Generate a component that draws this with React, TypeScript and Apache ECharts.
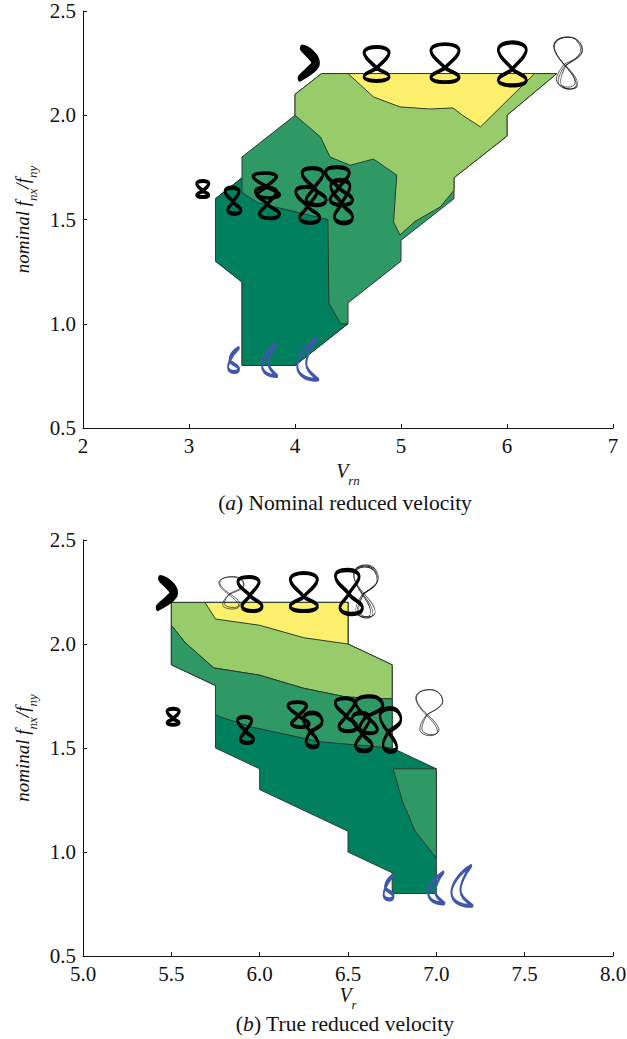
import React, { useEffect, useRef } from "react";
import * as echarts from "echarts";

type P = number[];

// ---- Panel (a): regions, in (V_rn, nominal fnx/fny)
const outerA: P[] = [[3.25,1.6],[3.5,1.7],[3.5,1.8],[4,2],[4,2.1],[4.25,2.2],[6.47,2.2],[6,2],[6,1.9],[5.5,1.7],[5.5,1.6],[5,1.4],[5,1.3],[4.5,1.1],[4.5,1],[4,0.8],[3.5,0.8],[3.5,1.2],[3.25,1.3]];
const darkA: P[] = [[3.25,1.6],[3.5,1.7],[3.5,1.63],[3.65,1.58],[3.98,1.54],[4.31,1.5],[4.32,1.1],[4.43,1],[4.5,1],[4,0.8],[3.5,0.8],[3.5,1.2],[3.25,1.3]];
const lightA: P[] = [[4,2.1],[4.25,2.2],[6.47,2.2],[6,2],[6,1.9],[5.5,1.7],[5.5,1.64],[5.37,1.56],[5.13,1.49],[4.99,1.426],[4.93,1.488],[4.96,1.713],[4.74,1.79],[4.52,1.76],[4.33,1.8],[4.24,1.896],[4,2]];
const yellowA: P[] = [[4.5,2.2],[4.74,2.088],[4.99,2.04],[5.27,2.03],[5.49,2.035],[5.58,2],[5.75,1.944],[6.26,2.2]];

// ---- Panel (b): regions, in (V_r, nominal fnx/fny)
const outerB: P[] = [[5.5,2.2],[6.5,2.2],[6.5,2],[6.75,1.9],[6.75,1.5],[7,1.4],[7,0.8],[6.75,0.8],[6.75,0.9],[6.5,1],[6.5,1.1],[6,1.3],[6,1.4],[5.75,1.5],[5.75,1.8],[5.5,1.9]];
const lightB: P[] = [[5.5,2.2],[6.5,2.2],[6.5,2],[6.75,1.9],[6.75,1.736],[6.49,1.745],[6.245,1.788],[6,1.85],[5.74,1.885],[5.58,2.005],[5.5,2.09]];
const midB: P[] = [[5.5,2.09],[5.58,2.005],[5.74,1.885],[6,1.85],[6.245,1.788],[6.49,1.745],[6.75,1.736],[6.75,1.5],[6.34,1.53],[5.96,1.6],[5.775,1.65],[5.75,1.66],[5.75,1.8],[5.5,1.9]];
const yellowB: P[] = [[5.69,2.2],[6.5,2.2],[6.5,2],[6.25,2.03],[6,2.09],[5.75,2.12]];
const patchB: P[] = [[6.755,1.4],[7,1.4],[7,0.97],[6.88,1.1],[6.81,1.24]];

// ---- Trajectory marker positions
const hookA: P[] = [[4.13,2.25]];
const eightsA: P[] = [[4.77,2.246],[5.415,2.25],[6.05,2.246],[3.13,1.646],[3.415,1.59],[3.73,1.663],[3.74,1.58],[4.18,1.658],[4.12,1.57],[4.415,1.66],[4.44,1.586]];
const thinA: P[] = [[6.575,2.25],[6.58,2.25],[6.57,2.255]];
const blueA: P[] = [[3.42,0.826],[3.76,0.826],[4.12,0.83]];
const hookB: P[] = [[5.475,2.245]];
const eightsB: P[] = [[5.945,2.24],[6.25,2.25],[6.505,2.25],[5.51,1.65],[5.92,1.587],[6.22,1.66],[6.3,1.587],[6.49,1.66],[6.62,1.66],[6.58,1.577],[6.74,1.587]];
const thinB: P[] = [[5.84,2.245],[5.845,2.25],[6.6,2.25],[6.605,2.255],[6.595,2.25],[6.96,1.67],[6.965,1.672]];
const blueB: P[] = [[6.73,0.83],[7,0.827],[7.145,0.837]];

// ---- Tick values / text
const xTicksB = ["5.0", "5.5", "6.0", "6.5", "7.0", "7.5", "8.0"];

const EIGHT = "path://M50 62C32 46 6 34 4 18C3 5 28 0 50 0C72 0 97 5 96 18C94 34 68 46 50 62C38 72 3 76 4 88C5 97 28 100 50 100C72 100 95 97 96 88C97 76 62 72 50 62Z";
const TILT = "path://M50 54C30 38 3 30 2 14C2 3 24 0 46 0C70 0 90 6 86 18C82 30 62 40 50 54C40 68 18 74 18 86C20 96 42 100 60 100C84 100 99 95 98 85C96 72 62 68 50 54Z";
const LEAN = "path://M40 55C20 42 2 28 4 16C8 2 40 -2 65 1C90 5 102 22 94 32C82 44 55 48 40 55C25 68 10 85 22 93C38 103 75 102 78 92C80 80 55 65 40 55Z";
const HOOK = "path://M12 0C50 4 95 30 95 50C95 65 40 85 0 100C30 80 72 62 72 48C72 36 34 16 12 0Z";
const CRES = "path://M92 0C40 15 0 45 0 65C0 88 45 100 98 98C70 85 42 76 42 60C42 45 62 20 92 0Z";
const BLUE8 = "path://M88 0C55 8 15 30 18 50C20 62 82 68 90 85C94 100 30 104 8 86C-6 68 42 22 88 0Z";

const REGION_DARK = "#00805f";
const REGION_MID = "#2f9966";
const REGION_LIGHT = "#98cc6a";
const REGION_YELLOW = "#fcef6c";
const EDGE = "#2c3a30";

const eightLooksA: any[] = [[EIGHT,[25,34]],[EIGHT,[28,38]],[EIGHT,[28,43]],[EIGHT,[12,16]],[TILT,[16,26]],[TILT,[26,25]],[TILT,[24,31]],[TILT,[24,37]],[TILT,[24,36]],[TILT,[27,38]],[TILT,[22,43]]];
const thinLooksA: any[] = [[LEAN,[28,52],0],[LEAN,[26,52],4],[LEAN,[29,50],-3]];
const blueLooksA: any[] = [[BLUE8,[11,24]],[CRES,[15,32]],[CRES,[21,41]]];
const eightLooksB: any[] = [[TILT,[24,34]],[EIGHT,[27,38]],[TILT,[27,44]],[EIGHT,[12,16]],[TILT,[16,26]],[TILT,[21,25]],[LEAN,[19,34]],[TILT,[22,33]],[LEAN,[27,37]],[TILT,[20,38]],[LEAN,[21,43]]];
const thinLooksB: any[] = [[LEAN,[25,32],0],[LEAN,[24,31],3],[LEAN,[24,52],0],[LEAN,[25,52],3],[LEAN,[23,50],-3],[LEAN,[27,46],0],[LEAN,[26,45],3]];
const blueLooksB: any[] = [[BLUE8,[10,24]],[CRES,[16,31]],[CRES,[21,40]]];

const region = (name: string, pts: P[], fill: string, xi: number) => ({
  type: "custom",
  name,
  xAxisIndex: xi,
  yAxisIndex: xi,
  silent: true,
  clip: false,
  data: pts,
  encode: { x: 0, y: 1 },
  renderItem: (params: any, api: any) =>
    params.dataIndex === 0
      ? { type: "polygon", shape: { points: pts.map((p) => api.coord(p)) }, style: { fill, stroke: EDGE, lineWidth: 1 } }
      : null,
});

const marks = (name: string, pts: P[], looks: any[], color: string, width: number, xi: number) => ({
  type: "scatter",
  name,
  xAxisIndex: xi,
  yAxisIndex: xi,
  silent: true,
  clip: false,
  z: 5,
  data: pts.map((p, i) => ({
    value: p,
    symbol: looks[i][0],
    symbolSize: looks[i][1],
    symbolRotate: looks[i][2] ?? 0,
  })),
  itemStyle: { color: "transparent", borderColor: color, borderWidth: width, borderJoin: "round", opacity: 1 },
});

const FONT = '"Liberation Serif", serif';
const axisBase = {
  type: "value",
  splitLine: { show: false },
  axisLine: { show: true, onZero: false, lineStyle: { color: "#111", width: 1 } },
  axisTick: { show: true, inside: true, length: 4, lineStyle: { color: "#111", width: 1 } },
};
const labelStyle = { color: "#111", fontFamily: FONT, fontSize: 21, margin: 7 };

const nameRich = {
  v: { fontFamily: FONT, fontStyle: "italic", fontSize: 20, color: "#111", lineHeight: 20, verticalAlign: "top" },
  s: { fontFamily: FONT, fontStyle: "italic", fontSize: 13, color: "#111", lineHeight: 26, verticalAlign: "bottom" },
  n: { fontFamily: FONT, fontStyle: "italic", fontSize: 19, color: "#111", lineHeight: 20, verticalAlign: "top" },
};
const yName = "{n|nominal f}{s|nx}{n|/f}{s|ny}";

const xAxisFor = (min: number, max: number, interval: number, name: string, fixed: boolean, gap: number) => ({
  ...axisBase,
  min,
  max,
  interval,
  name,
  nameLocation: "middle",
  nameGap: gap,
  nameTextStyle: { rich: nameRich },
  axisLabel: {
    ...labelStyle,
    formatter: (v: number) => (fixed ? xTicksB[Math.round((v - min) / interval)] : String(v)),
  },
});
const yAxisFor = () => ({
  ...axisBase,
  min: 0.5,
  max: 2.5,
  interval: 0.5,
  name: yName,
  nameLocation: "middle",
  nameGap: 44,
  nameTextStyle: { rich: nameRich },
  axisLabel: { ...labelStyle, formatter: (v: number) => v.toFixed(1) },
});

const captionRich = { i: { fontFamily: FONT, fontStyle: "italic", fontSize: 21.5, color: "#111" } };
const captionStyle = { fontFamily: FONT, fontSize: 21.5, fontWeight: "normal", color: "#111", rich: captionRich };

export default function App() {
  const ref = useRef<HTMLDivElement>(null);
  useEffect(() => {
    document.body.style.margin = "0";
    const chart = echarts.init(ref.current!, undefined, { renderer: "svg" });
    chart.setOption({
      animation: false,
      backgroundColor: "#fff",
      title: [
        { text: "({i|a}) Nominal reduced velocity", left: 340, top: 487, textAlign: "center", textStyle: captionStyle },
        { text: "({i|b}) True reduced velocity", left: 340, top: 1008, textAlign: "center", textStyle: captionStyle },
      ],
      grid: [
        { left: 83, top: 11, width: 530, height: 417, outerBoundsMode: "none" },
        { left: 83, top: 540, width: 530, height: 416, outerBoundsMode: "none" },
      ],
      xAxis: [
        { ...xAxisFor(2, 7, 1, "{v|V}{s|rn}", false, 33), gridIndex: 0 },
        { ...xAxisFor(5, 8, 0.5, "{v|V}{s|r}", true, 27), gridIndex: 1 },
      ],
      yAxis: [
        { ...yAxisFor(), gridIndex: 0 },
        { ...yAxisFor(), gridIndex: 1 },
      ],
      series: [
        region("envelope a", outerA, REGION_MID, 0),
        region("dark a", darkA, REGION_DARK, 0),
        region("light a", lightA, REGION_LIGHT, 0),
        region("yellow a", yellowA, REGION_YELLOW, 0),
        region("envelope b", outerB, REGION_DARK, 1),
        region("light b", lightB, REGION_LIGHT, 1),
        region("mid b", midB, REGION_MID, 1),
        region("yellow b", yellowB, REGION_YELLOW, 1),
        region("patch b", patchB, REGION_MID, 1),
        marks("hook a", hookA, [[HOOK, [18, 30]]], "#000", 5.5, 0),
        marks("eights a", eightsA, eightLooksA, "#000", 3.4, 0),
        marks("thin a", thinA, thinLooksA, "#222", 0.7, 0),
        marks("blue a", blueA, blueLooksA, "#3f57ad", 2.8, 0),
        marks("hook b", hookB, [[HOOK, [18, 29]]], "#000", 5.5, 1),
        marks("thin b", thinB, thinLooksB, "#222", 0.7, 1),
        marks("eights b", eightsB, eightLooksB, "#000", 3.4, 1),
        marks("blue b", blueB, blueLooksB, "#3f57ad", 2.8, 1),
      ],
    });
    return () => chart.dispose();
  }, []);
  return <div ref={ref} style={{ width: 627, height: 1039 }} />;
}
